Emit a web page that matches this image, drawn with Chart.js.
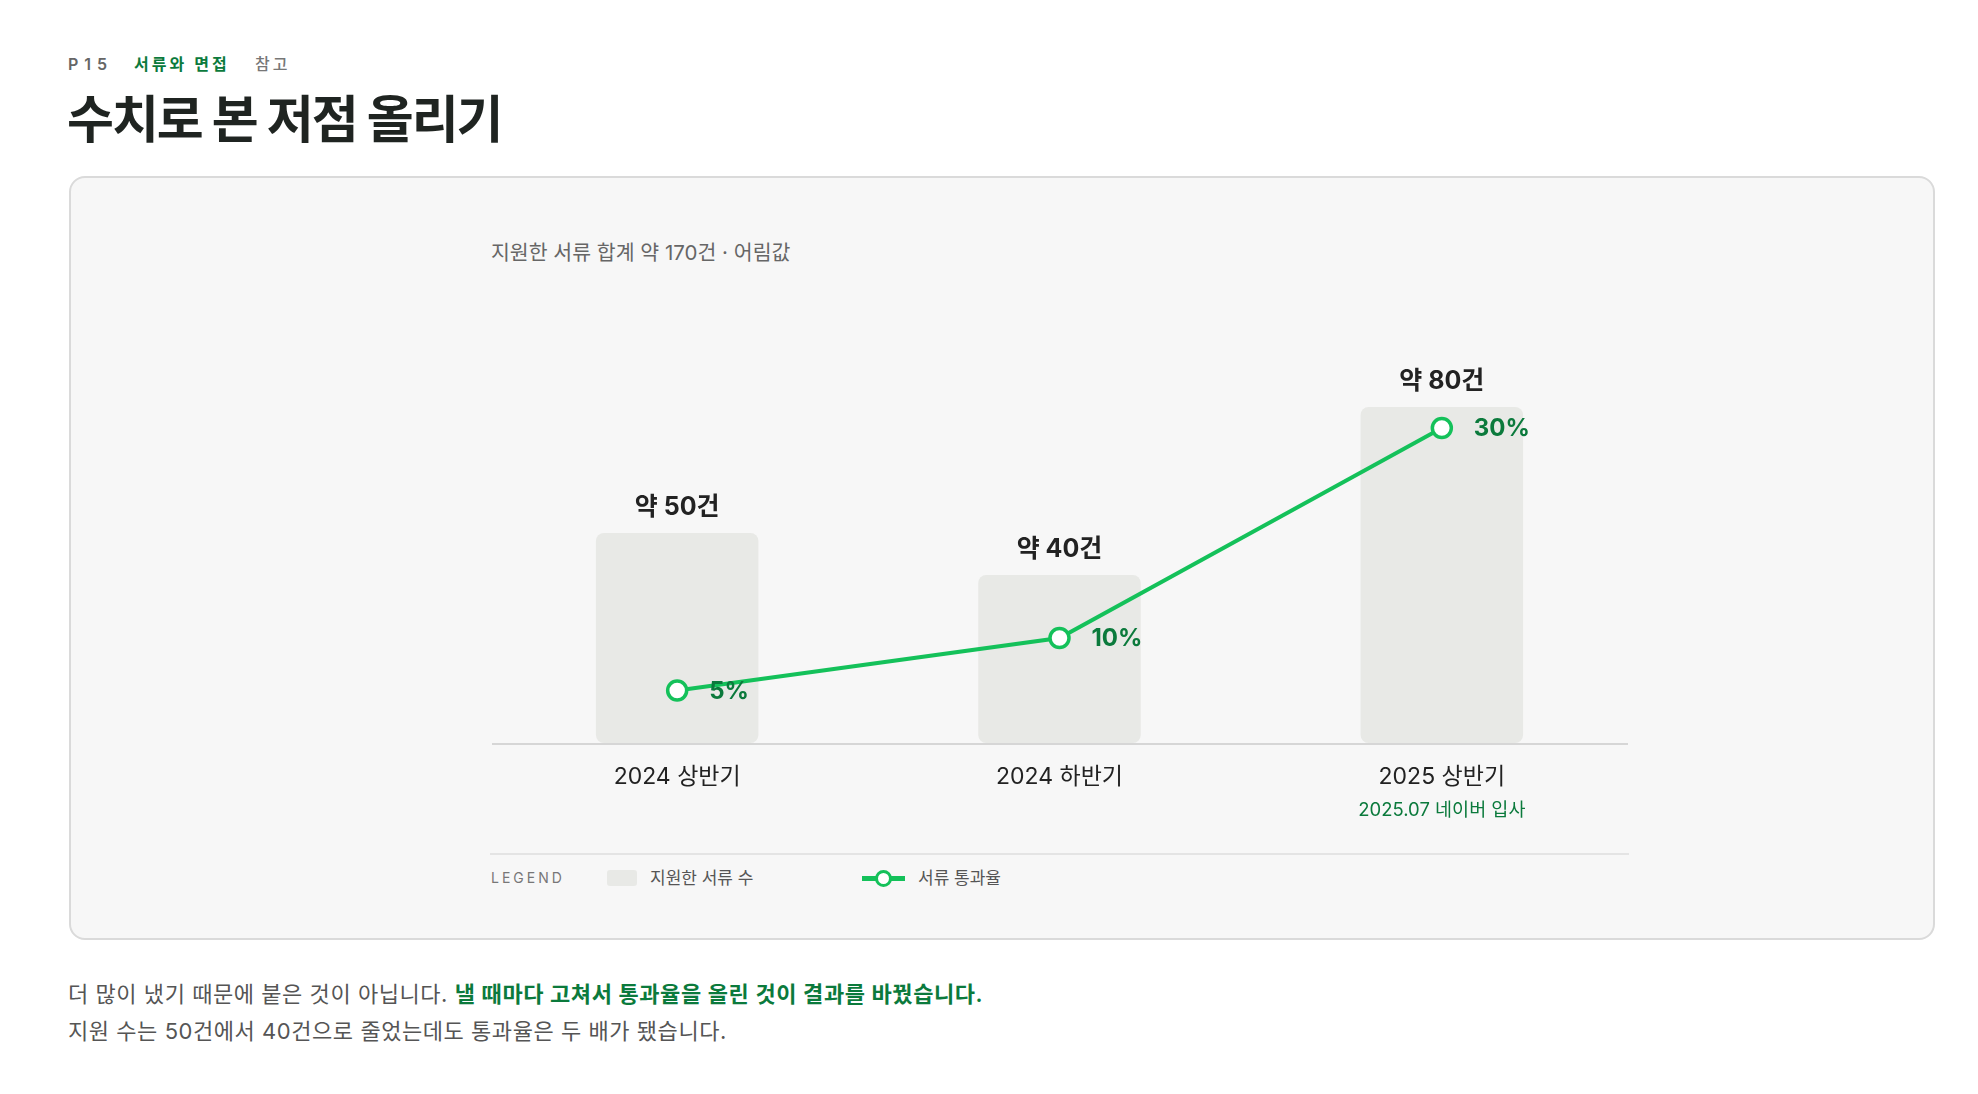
<!DOCTYPE html>
<html lang="ko">
<head>
<meta charset="utf-8">
<title>수치로 본 저점 올리기</title>
<script src="https://cdn.jsdelivr.net/npm/chart.js@4.4.1/dist/chart.umd.min.js"></script>
<style>
	html,body{margin:0;padding:0;background:#fff;}
	body{width:1978px;height:1094px;position:relative;overflow:hidden;
		font-family:Inter,"Noto Sans CJK KR",sans-serif;color:#222;}
	.eyebrow span{position:absolute;top:52px;font-size:16px;font-weight:600;line-height:24px;white-space:nowrap;}
	.eyebrow .pg{left:68px;color:#666;letter-spacing:6px;}
	.eyebrow .sec{left:134px;color:#0b7a3c;letter-spacing:3px;}
	.eyebrow .ref{left:255px;color:#777;letter-spacing:3px;font-weight:500;}
	h1{position:absolute;left:67px;top:87px;margin:0;font-size:51px;line-height:66px;font-weight:700;letter-spacing:-2px;color:#1f2421;}
	.card{position:absolute;left:69px;top:176px;width:1866px;height:764px;box-sizing:border-box;
		background:#f7f7f7;border:2px solid #dadada;border-radius:16px;}
	.sub{position:absolute;left:491px;top:239px;font-size:20.5px;line-height:28px;color:#666;}
	#wrap{position:absolute;left:440px;top:280px;width:1260px;height:560px;}
	.sep{position:absolute;left:490px;top:853px;width:1139px;height:2px;background:#e4e4e4;}
	.legend{position:absolute;left:491px;top:866px;height:24px;font-size:17px;line-height:24px;color:#555;}
	.legend .lbl{position:absolute;left:0;top:0;font-size:14px;letter-spacing:3px;color:#777;}
	.legend .box{position:absolute;left:116px;top:4px;width:30px;height:16px;border-radius:3px;background:#e8e9e6;}
	.legend .t1{position:absolute;left:159px;top:0;white-space:nowrap;}
	.legend .ln{position:absolute;left:371px;top:10px;width:43px;height:5px;background:#14c15a;}
	.legend .dot{position:absolute;left:384px;top:4px;width:11px;height:11px;border:3px solid #14c15a;border-radius:50%;background:#fff;}
	.legend .t2{position:absolute;left:427px;top:0;white-space:nowrap;}
	.foot{position:absolute;left:68px;top:976px;font-size:22px;line-height:37px;color:#555;letter-spacing:0.55px;}
	.foot b{color:#0b7a3c;font-weight:600;}
</style>
</head>
<body>
<div class="eyebrow"><span class="pg">P15</span><span class="sec">서류와 면접</span><span class="ref">참고</span></div>
<h1>수치로 본 저점 올리기</h1>
<div class="card"></div>
<div class="sub">지원한 서류 합계 약 170건 · 어림값</div>
<div id="wrap"><canvas id="chart"></canvas></div>
<div class="sep"></div>
<div class="legend">
	<span class="lbl">LEGEND</span>
	<span class="box"></span><span class="t1">지원한 서류 수</span>
	<span class="ln"></span><span class="dot"></span><span class="t2">서류 통과율</span>
</div>
<div class="foot">
	더 많이 냈기 때문에 붙은 것이 아닙니다. <b>낼 때마다 고쳐서 통과율을 올린 것이 결과를 바꿨습니다.</b><br>
	지원 수는 50건에서 40건으로 줄었는데도 통과율은 두 배가 됐습니다.
</div>

<script>
	'use strict';

	// data
	var periods = ['2024 상반기', '2024 하반기', '2025 상반기'];
	var periodNotes = ['', '', '2025.07 네이버 입사'];
	var applications = [50, 40, 80];
	var passRate = [5, 10, 30];

	var GREEN = '#14c15a';
	var DARK_GREEN = '#0b7a3c';
	var FONT = 'Inter, "Noto Sans CJK KR", sans-serif';

	// baseline, a bit shorter than the category band
	var baseline = {
		id: 'baseline',
		afterDatasetsDraw: function(chart){
			var ctx = chart.ctx;
			var area = chart.chartArea;
			var y = chart.scales.y.getPixelForValue(0);
			ctx.save();
			ctx.strokeStyle = '#d6d6d6';
			ctx.lineWidth = 2;
			ctx.beginPath();
			ctx.moveTo(area.left + 6, y + 1);
			ctx.lineTo(area.right - 5, y + 1);
			ctx.stroke();
			ctx.restore();
		}
	};

	// value labels over bars and next to points
	var valueLabels = {
		id: 'valueLabels',
		afterDatasetsDraw: function(chart){
			var ctx = chart.ctx;
			ctx.save();
			ctx.textBaseline = 'middle';

			var bars = chart.getDatasetMeta(0).data;
			ctx.font = '700 25px ' + FONT;
			ctx.fillStyle = '#222';
			ctx.textAlign = 'center';
			bars.forEach(function(bar, i){
				ctx.fillText('약 ' + applications[i] + '건', bar.x, bar.y - 26);
			});

			var pts = chart.getDatasetMeta(1).data;
			ctx.font = '700 24px ' + FONT;
			ctx.fillStyle = DARK_GREEN;
			ctx.textAlign = 'left';
			pts.forEach(function(pt, i){
				ctx.fillText(passRate[i] + '%', pt.x + 32, pt.y + 1);
			});
			ctx.restore();
		}
	};

	// second line under the category label
	var notes = {
		id: 'notes',
		afterDraw: function(chart){
			var ctx = chart.ctx;
			var x = chart.scales.x;
			ctx.save();
			ctx.font = '400 18.5px ' + FONT;
			ctx.fillStyle = DARK_GREEN;
			ctx.textAlign = 'center';
			ctx.textBaseline = 'middle';
			periodNotes.forEach(function(note, i){
				if(note) ctx.fillText(note, x.getPixelForValue(i), chart.chartArea.bottom + 67);
			});
			ctx.restore();
		}
	};

	new Chart(document.getElementById('chart'), {
		type: 'bar',
		data: {
			labels: periods,
			datasets: [
				{
					type: 'bar',
					label: '지원한 서류 수',
					data: applications,
					yAxisID: 'y',
					backgroundColor: '#e8e9e6',
					borderRadius: 8,
					borderSkipped: false,
					categoryPercentage: 1,
					barPercentage: 0.425,
					order: 1
				},
				{
					type: 'line',
					label: '서류 통과율',
					data: passRate,
					yAxisID: 'y2',
					borderColor: GREEN,
					borderWidth: 4,
					tension: 0,
					pointRadius: 9.5,
					pointBorderWidth: 3.5,
					pointBackgroundColor: '#fff',
					pointBorderColor: GREEN,
					order: 0
				}
			]
		},
		options: {
			responsive: true,
			maintainAspectRatio: false,
			animation: false,
			layout: { padding: { left: 46, right: 67, top: 43, bottom: 0 } },
			plugins: {
				legend: { display: false },
				tooltip: { enabled: false }
			},
			scales: {
				x: {
					grid: { display: false, drawTicks: false },
					border: { display: false },
					ticks: {
						color: '#222',
						padding: 20,
						font: { family: FONT, size: 23, weight: '400' }
					},
					afterFit: function(scale){ scale.height = 97; }
				},
				y: { display: false, min: 0, max: 100 },
				y2: { display: false, min: 0, max: 40, position: 'right' }
			}
		},
		plugins: [baseline, valueLabels, notes]
	});
</script>
</body>
</html>
